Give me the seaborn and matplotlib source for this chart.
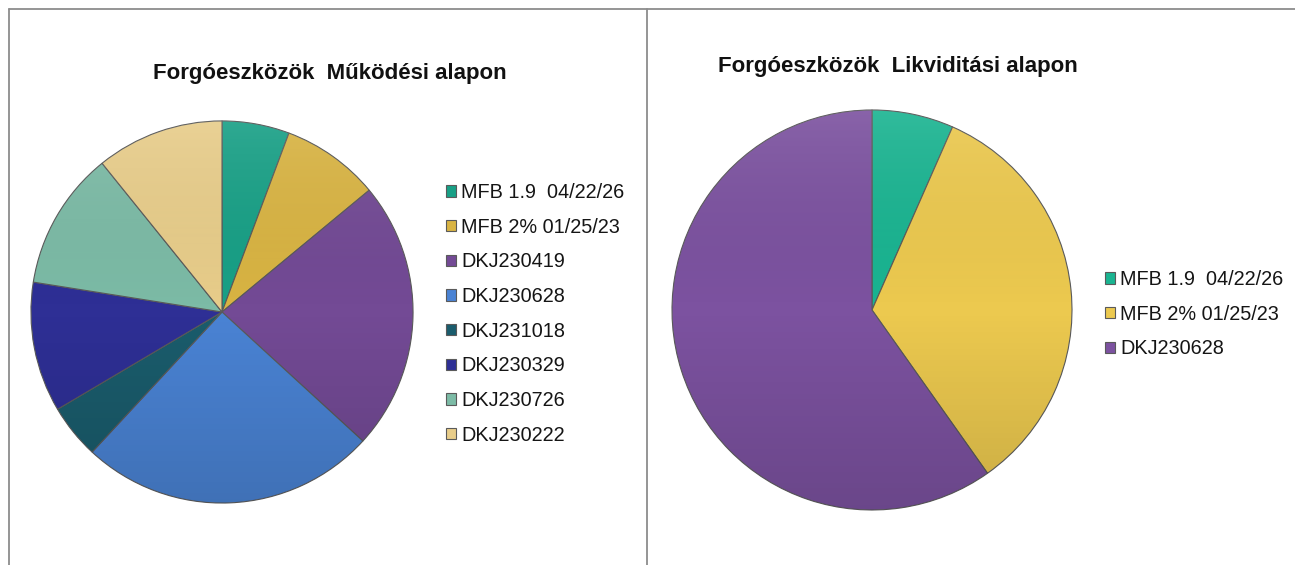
import numpy as np
import matplotlib
matplotlib.use("Agg")
import matplotlib.pyplot as plt
from matplotlib.lines import Line2D
from matplotlib.patches import Circle
import seaborn as sns

sns.set_style("white")
plt.rcParams['font.family'] = ['Liberation Sans', 'DejaVu Sans']

# data (shares in %)
left_labels = ['MFB 1.9  04/22/26', 'MFB 2% 01/25/23', 'DKJ230419', 'DKJ230628',
               'DKJ231018', 'DKJ230329', 'DKJ230726', 'DKJ230222']
left_values = [5.7, 8.3, 22.8, 25.1, 4.6, 11.0, 11.7, 10.8]
left_colors = ['#18a086', '#d9b443', '#734a95', '#4a83d4',
               '#1a5c6c', '#2e2f95', '#7cbba6', '#e8cd8a']

right_labels = ['MFB 1.9  04/22/26', 'MFB 2% 01/25/23', 'DKJ230628']
right_values = [6.6, 33.6, 59.8]
right_colors = ['#1ab491', '#ecc94f', '#7c52a0']

left_title = 'Forgóeszközök  Működési alapon'
right_title = 'Forgóeszközök  Likviditási alapon'

W, H = 1295, 565
fig = plt.figure(figsize=(W / 100, H / 100), dpi=100)


def px_box(cx, cy, r):
    return [(cx - r) / W, 1 - (cy + r) / H, 2 * r / W, 2 * r / H]


def shade(ax):
    # soft vertical gradient: lighter on top, darker at the bottom
    grad = np.linspace(0, 1, 256).reshape(-1, 1)
    cmap = matplotlib.colors.LinearSegmentedColormap.from_list(
        'sh', [(0, 0, 0, 0.14), (0, 0, 0, 0.0), (1, 1, 1, 0.10)])
    im = ax.imshow(grad, extent=[-1, 1, -1, 1], cmap=cmap, aspect='auto',
                   origin='lower', zorder=3)
    im.set_clip_path(Circle((0, 0), 1, transform=ax.transData))


def draw_pie(box, values, colors):
    ax = fig.add_axes(box)
    wedges, _ = ax.pie(values, colors=colors, startangle=90, counterclock=False,
                       radius=1, wedgeprops=dict(edgecolor='#5a5a5a', linewidth=0.8))
    shade(ax)
    ax.set_xlim(-1.005, 1.005)
    ax.set_ylim(-1.005, 1.005)
    ax.set_aspect('auto')
    ax.axis('off')
    return wedges


lw = draw_pie(px_box(222, 312, 192), left_values, left_colors)
rw = draw_pie(px_box(872, 310, 201), right_values, right_colors)

leg_kw = dict(frameon=False, fontsize=14.3, handlelength=0.5, handleheight=0.5,
              handletextpad=0.25, labelspacing=0.79, borderpad=0, borderaxespad=0,
              loc='upper left', labelcolor='#151515')
fig.legend(lw, left_labels, bbox_to_anchor=(446 / W, 1 - 183 / H), **leg_kw)
fig.legend(rw, right_labels, bbox_to_anchor=(1105 / W, 1 - 270 / H), **leg_kw)

fig.text(330 / W, 1 - 79 / H, left_title, ha='center', va='baseline',
         fontsize=16, fontweight='bold', color='#111111')
fig.text(898 / W, 1 - 72 / H, right_title, ha='center', va='baseline',
         fontsize=16, fontweight='bold', color='#111111')

# panel borders
gray = '#8c8c8c'
fig.add_artist(Line2D([9 / W, 1], [1 - 9 / H, 1 - 9 / H], color=gray, lw=1.3))
fig.add_artist(Line2D([9 / W, 9 / W], [0, 1 - 9 / H], color=gray, lw=1.3))
fig.add_artist(Line2D([647 / W, 647 / W], [0, 1 - 9 / H], color=gray, lw=1.3))

fig.savefig('out.png', dpi=100, facecolor='white')
